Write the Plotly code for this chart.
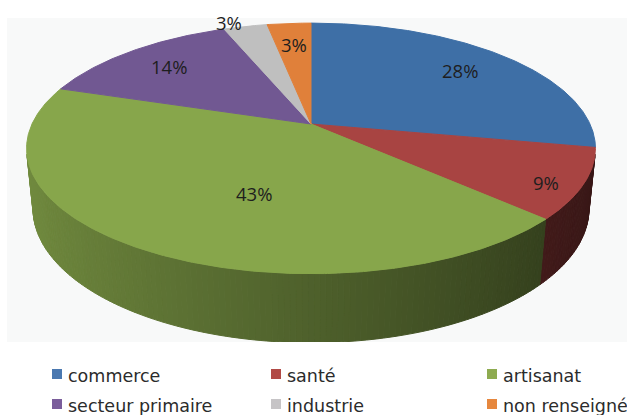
import math
import numpy as np
import plotly.graph_objects as go

# ---- data ----
categories = ["commerce", "santé", "artisanat", "secteur primaire", "industrie", "non renseigné"]
shares = [28, 9, 43, 14, 3, 3]

# ---- styling ----
top_colors = ["#3E6FA6", "#A84442", "#87A64B", "#715892", "#BFBFBF", "#E0803A"]
key_colors = ["#4A78B0", "#B14A46", "#8EAB50", "#7A5D9B", "#C6C4C6", "#E6873E"]

# percentage label placement: radial fraction and angular nudge (degrees)
label_radius = [0.76, 0.89, 0.55, 0.77, 1.07, 0.76]
label_turn = [0, -3, 11, 0, 3, 0]

# ---- page / plot frame (pixels) ----
W, H = 627, 415
PLOT_L, PLOT_R, PLOT_T, PLOT_B = 7, 627, 18, 342

# ---- 3-D pie geometry (perspective view of a tilted slab) ----
CX, CY = 311.0, 124.0          # projected pie centre
SCREEN_R = 279.0               # projected radius scale
K = 0.216                      # radius / camera distance
TILT = math.radians(25.6)      # view elevation
THICK = 0.0519                 # slab thickness / camera distance
F = SCREEN_R / K


def project(theta_deg, r=1.0, bottom=False):
    t = math.radians(theta_deg)
    x3 = r * K * math.cos(t)
    y3 = r * K * math.sin(t)
    z3 = -THICK if bottom else 0.0
    depth = 1.0 + y3 * math.cos(TILT) - z3 * math.sin(TILT)
    up = y3 * math.sin(TILT) + z3 * math.cos(TILT)
    return CX + F * x3 / depth, CY - F * up / depth


def arc(a, b, step=0.5):
    n = max(2, int(abs(a - b) / step) + 1)
    return np.linspace(a, b, n)


def shade(hex_color, f):
    h = hex_color.lstrip("#")
    rgb = [int(h[i:i + 2], 16) for i in (0, 2, 4)]
    rgb = [max(0, min(255, int(round(c * f)))) for c in rgb]
    return "rgb({},{},{})".format(*rgb)


total = float(sum(shares))
bounds = []
start = 90.0
for v in shares:
    span = 360.0 * v / total
    bounds.append((start, start - span))
    start -= span

fig = go.Figure()

# outer wall: only the front-facing part of the rim is visible
lim = math.degrees(math.asin(K / math.cos(TILT)))
wall_lo, wall_hi = -180.0 + lim, -lim
for (a, b), col in zip(bounds, top_colors):
    lo, hi = max(b, wall_lo), min(a, wall_hi)
    if lo >= hi:
        continue
    ts = arc(hi, lo, step=1.0)
    for t1, t2 in zip(ts[:-1], ts[1:]):
        p = [project(t1), project(t2), project(t2, bottom=True), project(t1, bottom=True)]
        tm = math.radians(0.5 * (t1 + t2))
        c = shade(col, 0.58 - 0.26 * math.cos(tm))
        fig.add_trace(go.Scatter(
            x=[q[0] for q in p] + [p[0][0]],
            y=[q[1] for q in p] + [p[0][1]],
            mode="lines", fill="toself", fillcolor=c,
            line=dict(color=c, width=1),
            hoverinfo="skip", showlegend=False,
        ))

# top faces of the slices
for (a, b), col, name in zip(bounds, top_colors, categories):
    pts = [project(t) for t in arc(a, b)]
    xs = [CX] + [q[0] for q in pts] + [CX]
    ys = [CY] + [q[1] for q in pts] + [CY]
    fig.add_trace(go.Scatter(
        x=xs, y=ys, mode="lines", fill="toself", fillcolor=col,
        line=dict(color=col, width=1),
        name=name, hoverinfo="name", showlegend=False,
    ))

# percentage labels
for (a, b), v, r, dt in zip(bounds, shares, label_radius, label_turn):
    lx, ly = project(0.5 * (a + b) + dt, r=r)
    fig.add_annotation(
        x=lx, y=ly, xref="x", yref="y", text=f"{v}%", showarrow=False,
        font=dict(family="Open Sans", size=18.5, color="#1E1E1E"),
        xanchor="center", yanchor="middle",
    )


def px_to_paper(px, py):
    return (px - PLOT_L) / (PLOT_R - PLOT_L), (PLOT_B - py) / (PLOT_B - PLOT_T)


# legend: 3 columns x 2 rows
col_x = [52, 271, 487]
row_y = [374, 404]
box = 10
for i, (name, kc) in enumerate(zip(categories, key_colors)):
    cx0 = col_x[i % 3]
    cy0 = row_y[i // 3]
    x0, y0 = px_to_paper(cx0, cy0 + box / 2)
    x1, y1 = px_to_paper(cx0 + box, cy0 - box / 2)
    fig.add_shape(type="rect", xref="paper", yref="paper",
                  x0=x0, y0=y0, x1=x1, y1=y1,
                  fillcolor=kc, line=dict(width=0))
    tx, ty = px_to_paper(cx0 + box + 4, cy0 + 2)
    fig.add_annotation(
        x=tx, y=ty, xref="paper", yref="paper", text=name, showarrow=False,
        xanchor="left", yanchor="middle",
        font=dict(family="DejaVu Sans", size=17.5, color="#2B2B2B"),
    )

fig.update_layout(
    width=W, height=H,
    margin=dict(l=PLOT_L, r=W - PLOT_R, t=PLOT_T, b=H - PLOT_B, pad=0),
    paper_bgcolor="white", plot_bgcolor="#F8F9F9",
    xaxis=dict(range=[PLOT_L, PLOT_R], visible=False, fixedrange=True),
    yaxis=dict(range=[PLOT_B, PLOT_T], visible=False, fixedrange=True),
    showlegend=False,
)

fig.write_html("out.html")
